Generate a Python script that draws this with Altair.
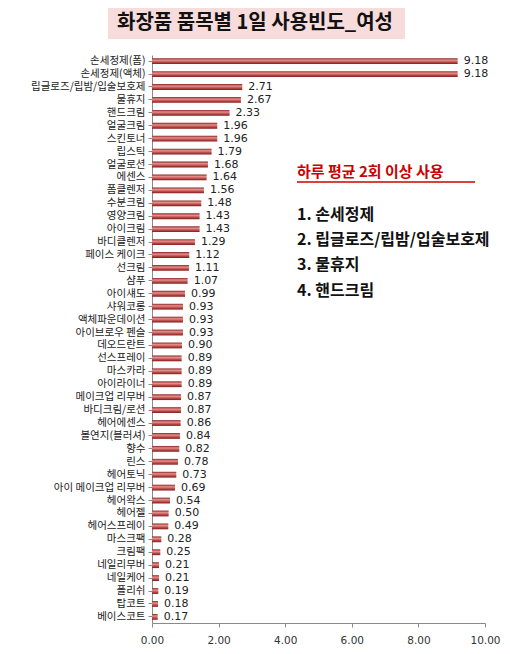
import altair as alt
import pandas as pd

items = ["손세정제(폼)", "손세정제(액체)", "립글로즈/립밤/입술보호제", "물휴지", "핸드크림",
         "얼굴크림", "스킨토너", "립스틱", "얼굴로션", "에센스", "폼클렌저", "수분크림",
         "영양크림", "아이크림", "바디클렌저", "페이스 케이크", "선크림", "샴푸", "아이섀도",
         "샤워코롱", "액체파운데이션", "아이브로우 펜슬", "데오드란트", "선스프레이", "마스카라",
         "아이라이너", "메이크업 리무버", "바디크림/로션", "헤어에센스", "볼연지(블러셔)", "향수",
         "린스", "헤어토닉", "아이 메이크업 리무버", "헤어왁스", "헤어젤", "헤어스프레이",
         "마스크팩", "크림팩", "네일리무버", "네일케어", "폴리쉬", "탑코트", "베이스코트"]
values = [9.18, 9.18, 2.71, 2.67, 2.33, 1.96, 1.96, 1.79, 1.68, 1.64, 1.56, 1.48,
          1.43, 1.43, 1.29, 1.12, 1.11, 1.07, 0.99, 0.93, 0.93, 0.93, 0.90, 0.89, 0.89,
          0.89, 0.87, 0.87, 0.86, 0.84, 0.82, 0.78, 0.73, 0.69, 0.54, 0.50, 0.49,
          0.28, 0.25, 0.21, 0.21, 0.19, 0.18, 0.17]
x_ticks = [0, 2, 4, 6, 8, 10]

title_text = "화장품 품목별 1일 사용빈도_여성"
note_head = "하루 평균 2회 이상 사용"
note_items = ["1. 손세정제", "2. 립글로즈/립밤/입술보호제", "3. 물휴지", "4. 핸드크림"]

df = pd.DataFrame({"item": items, "value": values})
df["label"] = df["value"].map(lambda v: f"{v:.2f}")

FONT = "Noto Sans CJK KR"

y_enc = alt.Y("item:N", sort=items, title=None,
              scale=alt.Scale(paddingInner=0.55, paddingOuter=0.25),
              axis=alt.Axis(labelFont=FONT, labelFontSize=10.5, labelColor="#222222",
                            domainColor="#8a8a8a", tickColor="#8a8a8a", tickSize=4,
                            labelPadding=3, labelLimit=200))
x_enc = alt.X("value:Q", title=None,
              scale=alt.Scale(domain=[0, 10], nice=False),
              axis=alt.Axis(values=x_ticks, format=".2f", grid=False, labelFlush=False,
                            labelFont="DejaVu Sans", labelFontSize=10.5, labelColor="#333333",
                            domainColor="#8a8a8a", tickColor="#8a8a8a", tickSize=4,
                            labelPadding=8))

grad = alt.LinearGradient(gradient="linear", x1=0, y1=0, x2=0, y2=1,
                          stops=[alt.GradientStop(color="#8a2624", offset=0),
                                 alt.GradientStop(color="#e6908e", offset=0.35),
                                 alt.GradientStop(color="#c0504d", offset=0.65),
                                 alt.GradientStop(color="#7a1e1c", offset=1)])

bars = alt.Chart(df).mark_bar(color=grad).encode(y=y_enc, x=x_enc)
labels = alt.Chart(df).mark_text(align="left", baseline="middle", dx=6,
                                 font="DejaVu Sans", fontSize=11, color="#222222").encode(
    y=alt.Y("item:N", sort=items), x="value:Q", text="label:N")

title_bg = alt.Chart().mark_rect(color="#f8dcdc").encode(
    x=alt.value(-44), x2=alt.value(253), y=alt.value(-48), y2=alt.value(-16))
title = alt.Chart().mark_text(text=title_text, font=FONT, fontSize=20, fontWeight="bold",
                              color="#111111", align="center", baseline="middle").encode(
    x=alt.value(103), y=alt.value(-32))

note_h = alt.Chart().mark_text(text=note_head, font=FONT, fontSize=15, fontWeight="bold",
                               color="#cc0000", align="left", baseline="middle").encode(
    x=alt.value(145), y=alt.value(117))
note_line = alt.Chart().mark_rule(color="#cc0000", strokeWidth=1.5).encode(
    x=alt.value(145), x2=alt.value(323), y=alt.value(127))

note_y = [160, 185, 210, 236]
note_layers = [
    alt.Chart().mark_text(text=t, font=FONT, fontSize=16, fontWeight="bold",
                          color="#111111", align="left", baseline="middle").encode(
        x=alt.value(145), y=alt.value(yy))
    for t, yy in zip(note_items, note_y)
]

chart = alt.layer(title_bg, title, bars, labels, note_h, note_line, *note_layers).properties(
    width=333, height=568,
    autosize=alt.AutoSizeParams(type="none"),
    padding={"left": 144, "top": 47, "right": 17, "bottom": 22},
    background="white"
).configure_view(stroke=None)

chart.save("out.html", embed_options={"renderer": "svg", "actions": False})
